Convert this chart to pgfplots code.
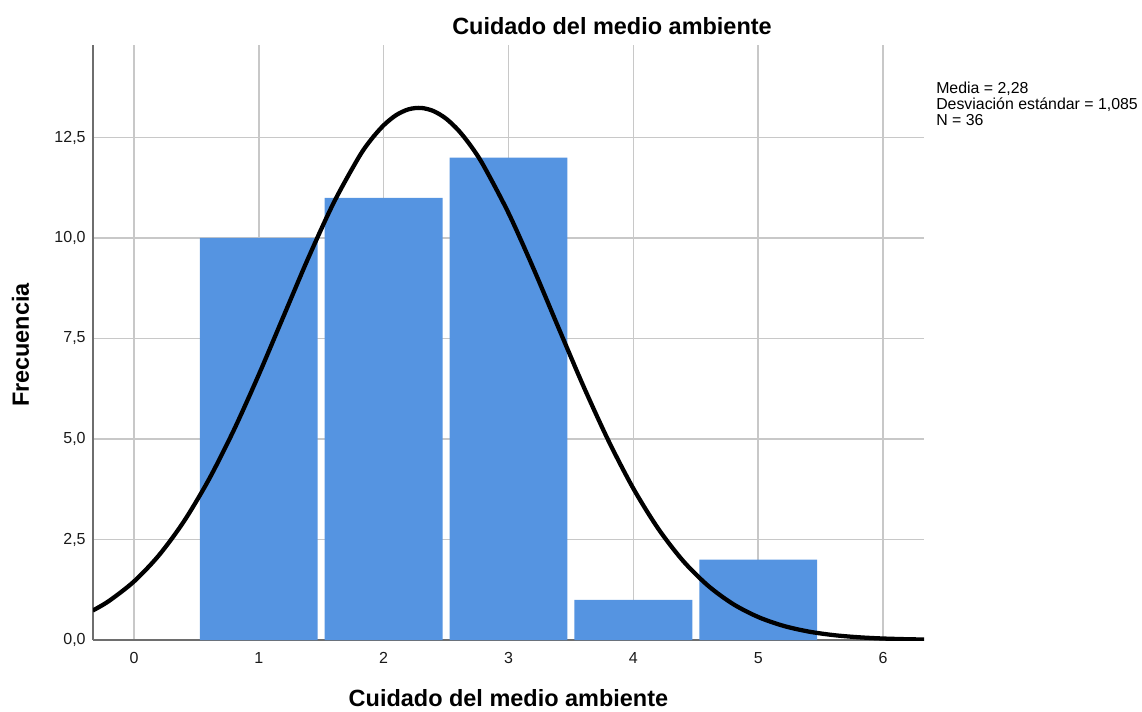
\documentclass[border=0pt]{standalone}
\usepackage{pgfplots}
\pgfplotsset{compat=1.18}
\usepackage{fontspec}
\setmainfont{Liberation Sans}
\definecolor{barblue}{HTML}{5594E1}
\definecolor{gridgray}{HTML}{C8C8C8}
\definecolor{axisgray}{HTML}{6E6E6E}
\begin{document}
\begin{tikzpicture}
\useasboundingbox (-69.75pt,-53.25pt) rectangle (786.75pt,480pt);
\begin{axis}[
  at={(0,0)}, anchor=south west,
  scale only axis,
  width=623.25pt, height=446.25pt,
  xmin=-0.328, xmax=6.328,
  ymin=0, ymax=14.8,
  xtick={0,1,2,3,4,5,6},
  ytick={0,2.5,5,7.5,10,12.5},
  axis lines*=left,
  axis line style={axisgray, line width=1.2pt},
  major tick length=0pt,
  tick style={draw=none},
  grid=major,
  major grid style={gridgray, line width=1.1pt},
  ticklabel style={font=\fontsize{12}{14}\selectfont, text=black!90},
  /pgf/number format/assume math mode=true,
  yticklabel style={/pgf/number format/fixed, /pgf/number format/fixed zerofill,
    /pgf/number format/precision=1, /pgf/number format/use comma, xshift=-2pt},
  xticklabel style={yshift=-5.5pt},
  clip=true,
]
\addplot[ybar, bar width=0.944, fill=barblue, draw=none] coordinates {
  (1,10) (2,11) (3,12) (4,1) (5,2)
};
\addplot[black, line width=3.2pt, smooth] coordinates {
  (-0.33,0.733) (-0.2,0.971) (0,1.455) (0.2,2.107) (0.4,2.950) (0.6,3.992)
  (0.8,5.221) (1.0,6.600) (1.2,8.066) (1.4,9.527) (1.6,10.877) (1.8,12.003)
  (1.9,12.450) (2.0,12.803) (2.1,13.056) (2.2,13.201) (2.3,13.235) (2.4,13.156)
  (2.5,12.968) (2.6,12.674) (2.7,12.282) (2.8,11.801)
  (3.0,10.621) (3.2,9.240) (3.4,7.770) (3.6,6.315) (3.8,4.962) (4.0,3.768)
  (4.2,2.766) (4.4,1.962) (4.6,1.346) (4.8,0.892) (5.0,0.572) (5.2,0.354)
  (5.4,0.212) (5.6,0.123) (5.8,0.069) (6.0,0.037) (6.2,0.019) (6.33,0.0125)
};
\end{axis}
\node[anchor=base, font=\fontsize{17.6}{20}\selectfont\bfseries] at (389.25pt,453.75pt) {Cuidado del medio ambiente};
\node[anchor=base, font=\fontsize{17.6}{20}\selectfont\bfseries] at (311.6pt,-49.5pt) {Cuidado del medio ambiente};
\node[anchor=base, rotate=90, font=\fontsize{17.6}{20}\selectfont\bfseries] at (-48pt,221.25pt) {Frecuencia};
\node[anchor=base west, inner sep=0pt, font=\fontsize{11.9}{12}\selectfont, align=left] at (632.25pt,385.5pt) {Media = 2,28\\Desviación estándar = 1,085\\N = 36};
\end{tikzpicture}
\end{document}
